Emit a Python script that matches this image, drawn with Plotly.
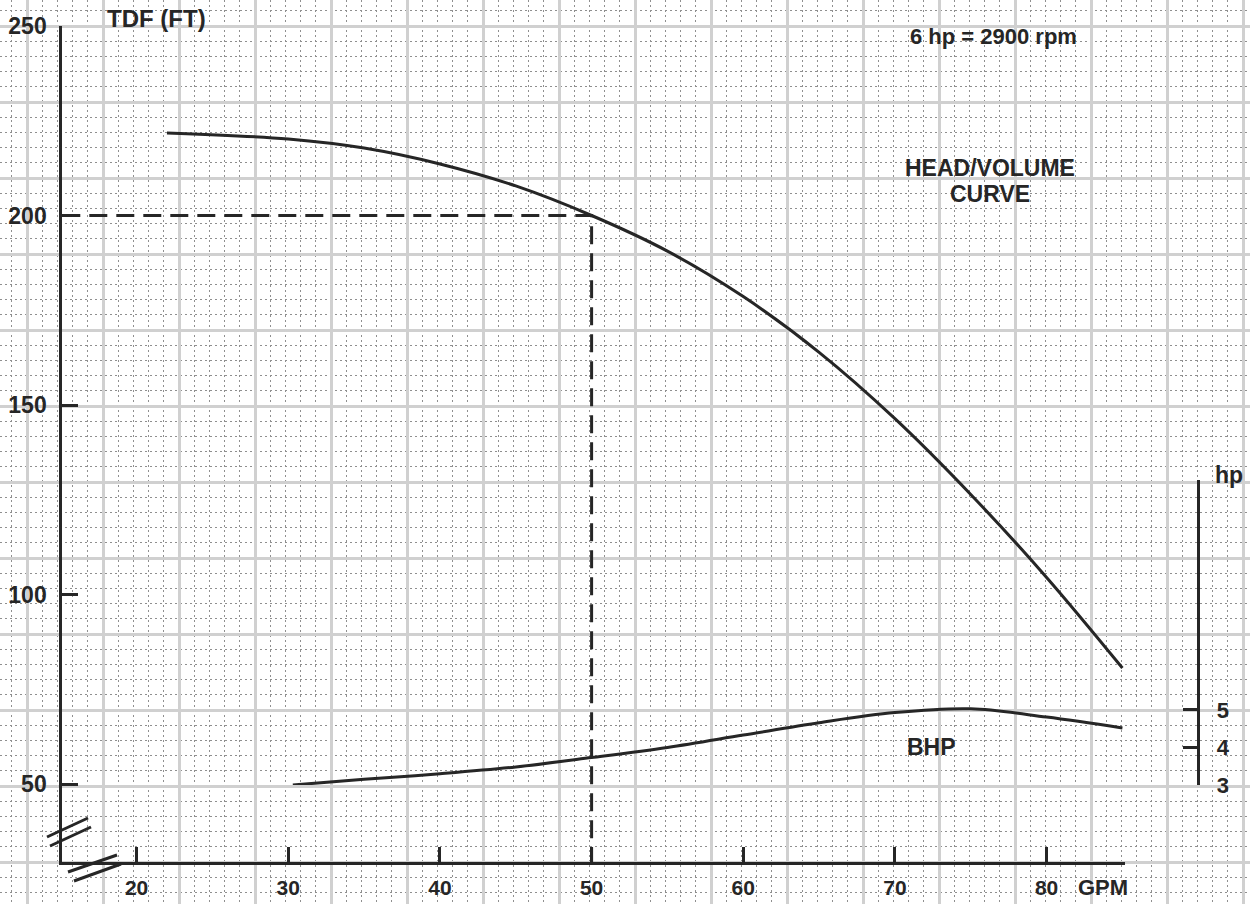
import plotly.graph_objects as go

# ---------------- data ----------------
head_gpm = [22.0, 30, 35, 40, 45, 50, 55, 60, 65, 70, 75, 80, 85.0]
head_ft = [221.8, 220.2, 217.8, 213.6, 207.8, 200.0, 190.6, 178.6, 163.9, 146.4, 126.4, 104.5, 80.6]

bhp_gpm = [30.3, 35, 40, 45, 50, 55, 60, 65, 70, 75, 80, 85.0]
bhp_hp = [3.0, 3.15, 3.3, 3.48, 3.73, 4.0, 4.33, 4.66, 4.93, 5.03, 4.81, 4.52]

design_gpm = 50
design_head = 200

x_ticks = [20, 30, 40, 50, 60, 70, 80]
y_ticks = [50, 100, 150, 200, 250]
hp_ticks = [3, 4, 5]

x_min, x_max = 15.1, 85.17
y_min, y_max = 29.42, 250
hp_min, hp_max = 3, 11.13

W, H = 1250, 904
INK = "#262626"
FONT = "Liberation Sans, Arial, Helvetica, sans-serif"

fig = go.Figure()

# background graph paper axes (pixel units)
fig.add_trace(go.Scatter(x=[None], y=[None], xaxis="x", yaxis="y", showlegend=False, hoverinfo="skip"))

# reference (design point) dashed lines
fig.add_trace(go.Scatter(
    x=[x_min, design_gpm, design_gpm], y=[design_head, design_head, y_min],
    xaxis="x2", yaxis="y2", mode="lines",
    line=dict(color=INK, width=3, dash="18px,9px"),
    showlegend=False, hoverinfo="skip"))

# head/volume curve
fig.add_trace(go.Scatter(
    x=head_gpm, y=head_ft, xaxis="x2", yaxis="y2", mode="lines",
    line=dict(color=INK, width=3, shape="spline", smoothing=1.0),
    showlegend=False))

# BHP curve
fig.add_trace(go.Scatter(
    x=bhp_gpm, y=bhp_hp, xaxis="x2", yaxis="y3", mode="lines",
    line=dict(color=INK, width=3, shape="spline", smoothing=1.0),
    showlegend=False))

x2_dom = [62.3 / W, 1125.0 / W]
y2_dom = [(H - 862) / H, (H - 26) / H]
y3_dom = [(H - 785) / H, (H - 480) / H]

tickfont = dict(family=FONT, size=23, color=INK)

def bold(vals):
    return ["<b>%s</b>" % v for v in vals]

fig.update_layout(
    width=W, height=H,
    margin=dict(l=0, r=0, t=0, b=0, autoexpand=False),
    paper_bgcolor="white",
    plot_bgcolor="rgba(0,0,0,0)",
    showlegend=False,
    xaxis=dict(domain=[0, 1], range=[0, W], anchor="y", automargin=False,
               showgrid=True, gridcolor="#d0d0d0", gridwidth=3,
               tick0=27, dtick=76,
               minor=dict(showgrid=True, tick0=27, dtick=15.2, gridcolor="#8f8f8f", gridwidth=1, griddash="2px,3px"),
               showticklabels=False, ticks="", zeroline=False, showline=False, fixedrange=True),
    yaxis=dict(domain=[0, 1], range=[H, 0], anchor="x", automargin=False,
               showgrid=True, gridcolor="#d0d0d0", gridwidth=3,
               tick0=26, dtick=76,
               minor=dict(showgrid=True, tick0=26, dtick=15.2, gridcolor="#8f8f8f", gridwidth=1, griddash="2px,3px"),
               showticklabels=False, ticks="", zeroline=False, showline=False, fixedrange=True),
    xaxis2=dict(domain=x2_dom, range=[x_min, x_max], anchor="y2", automargin=False,
                showgrid=False, zeroline=False, showline=True, linecolor=INK, linewidth=3,
                tickmode="array", tickvals=x_ticks, ticktext=bold(x_ticks),
                ticks="inside", ticklen=15, tickwidth=3, tickcolor=INK,
                tickfont=dict(family=FONT, size=21, color=INK),
                ticklabelstandoff=5),
    yaxis2=dict(domain=y2_dom, range=[y_min, y_max], anchor="x2", automargin=False,
                showgrid=False, zeroline=False, showline=True, linecolor=INK, linewidth=3,
                tickmode="array", tickvals=y_ticks, ticktext=bold(y_ticks),
                ticks="inside", ticklen=16, tickwidth=3, tickcolor=INK,
                tickfont=tickfont, ticklabelstandoff=8),
    yaxis3=dict(domain=y3_dom, range=[hp_min, hp_max], anchor="free", position=1198.3 / W,
                side="right", automargin=False,
                showgrid=False, zeroline=False, showline=True, linecolor=INK, linewidth=3,
                tickmode="array", tickvals=hp_ticks, ticktext=bold(hp_ticks),
                ticks="inside", ticklen=14, tickwidth=3, tickcolor=INK,
                tickfont=dict(family=FONT, size=22, color=INK), ticklabelstandoff=12),
)

def label(text, x, y, size=22, xanchor="center"):
    fig.add_annotation(text="<b>%s</b>" % text, x=x, y=y, xref="x", yref="y", showarrow=False,
                       xanchor=xanchor, yanchor="middle",
                       font=dict(family=FONT, size=size, color=INK))

label("TDF (FT)", 105, 18, size=24, xanchor="left")
label("6 hp = 2900 rpm", 993, 36, size=22)
label("HEAD/VOLUME", 990, 168, size=23)
label("CURVE", 990, 194, size=23)
label("BHP", 931, 747, size=23)
label("hp", 1229, 475, size=23)
label("GPM", 1103, 887, size=22)

# axis break marks
for (x0, y0, x1, y1) in [(47, 837, 88, 818), (50, 846, 91, 827),
                         (68, 872, 117, 855), (74, 881, 121, 864)]:
    fig.add_shape(type="line", xref="x", yref="y", x0=x0, y0=y0, x1=x1, y1=y1,
                  line=dict(color=INK, width=3))

fig.write_html("out.html")
